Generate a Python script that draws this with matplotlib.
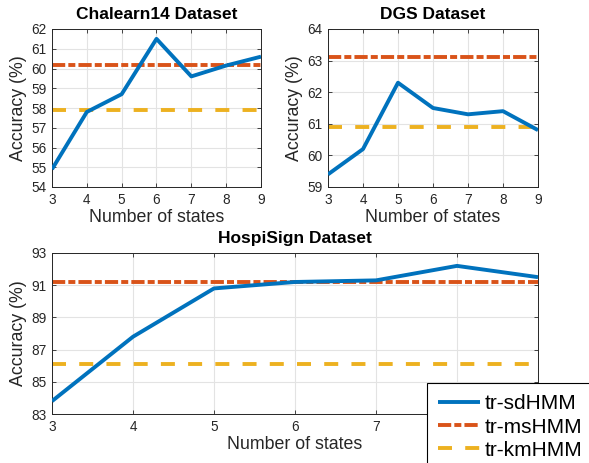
import matplotlib
matplotlib.use("Agg")
import matplotlib.pyplot as plt

states = [3, 4, 5, 6, 7, 8, 9]

chalearn_sd = [54.9, 57.8, 58.7, 61.5, 59.6, 60.15, 60.6]
chalearn_ms = 60.2
chalearn_km = 57.9

dgs_sd = [59.4, 60.2, 62.3, 61.5, 61.3, 61.4, 60.8]
dgs_ms = 63.1
dgs_km = 60.9

hospi_sd = [83.8, 87.8, 90.8, 91.2, 91.3, 92.2, 91.5]
hospi_ms = 91.2
hospi_km = 86.1

titles = ["Chalearn14 Dataset", "DGS Dataset", "HospiSign Dataset"]
legend_labels = ["tr-sdHMM", "tr-msHMM", "tr-kmHMM"]

BLUE = "#0072BD"
RED = "#D95319"
YEL = "#EDB120"
DARK = "#262626"

plt.rcParams["font.family"] = ["Liberation Sans", "DejaVu Sans"]

fig = plt.figure(figsize=(5.89, 4.63), dpi=100)

W, H = 589.0, 463.0
def rect(l, r, t, b):
    return [l / W, (H - b) / H, (r - l) / W, (b - t) / H]

ax1 = fig.add_axes(rect(52, 261, 29, 187))
ax2 = fig.add_axes(rect(328, 538, 29, 187))
ax3 = fig.add_axes(rect(52, 538, 253, 414))

LW = 2.8
DASHDOT = (0, (3.4, 0.8, 1.8, 0.8))
DASHED = (0, (3.6, 3.4))

def draw(ax, sd, ms, km, title, ylim, yticks):
    ax.set_axisbelow(True)
    ax.grid(True, color="#e3e3e3", linewidth=0.8)
    l1, = ax.plot(states, sd, color=BLUE, lw=LW, solid_capstyle="butt", zorder=3)
    l2, = ax.plot(states, [ms] * len(states), color=RED, lw=LW, linestyle=DASHDOT, zorder=2)
    l3, = ax.plot(states, [km] * len(states), color=YEL, lw=LW, linestyle=DASHED, zorder=2)
    ax.set_xlim(3, 9)
    ax.set_ylim(*ylim)
    ax.set_xticks(states)
    ax.set_yticks(yticks)
    ax.tick_params(direction="in", length=3, width=0.6, colors=DARK,
                   labelsize=9.8, top=True, right=True, pad=4)
    for s in ax.spines.values():
        s.set_color(DARK)
        s.set_linewidth(0.7)
    ax.set_title(title, fontsize=12.5, fontweight="bold", pad=7)
    ax.set_xlabel("Number of states", fontsize=12.8, color=DARK, labelpad=2)
    ax.set_ylabel("Accuracy (%)", fontsize=12.8, color=DARK, labelpad=3)
    return l1, l2, l3

draw(ax1, chalearn_sd, chalearn_ms, chalearn_km, titles[0], (54, 62), range(54, 63))
draw(ax2, dgs_sd, dgs_ms, dgs_km, titles[1], (59, 64), range(59, 65))
handles = draw(ax3, hospi_sd, hospi_ms, hospi_km, titles[2], (83, 93), range(83, 94, 2))

leg = fig.legend(handles, legend_labels, loc="upper left",
                 bbox_to_anchor=(427 / W, (H - 383) / H), bbox_transform=fig.transFigure,
                 fontsize=15, frameon=True, fancybox=False, borderaxespad=0,
                 borderpad=0.55, handlelength=2.0, handletextpad=0.2, labelspacing=0.2)
leg.get_frame().set_edgecolor("black")
leg.get_frame().set_linewidth(0.8)
leg.get_frame().set_alpha(1)

fig.savefig("out.png", dpi=100)
